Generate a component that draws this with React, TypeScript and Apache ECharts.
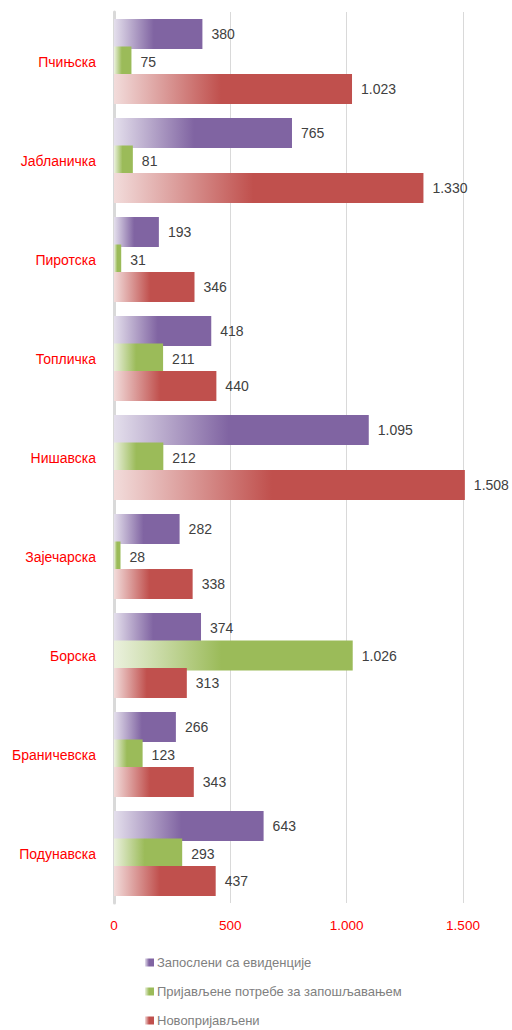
import React, { useEffect, useRef } from "react";
import * as echarts from "echarts";

const categories = [
  "Пчињска",
  "Јабланичка",
  "Пиротска",
  "Топличка",
  "Нишавска",
  "Зајечарска",
  "Борска",
  "Браничевска",
  "Подунавска",
];

const seriesNames = [
  "Запослени са евиденције",
  "Пријављене потребе за запошљавањем",
  "Новопријављени",
];

const employed = [380, 765, 193, 418, 1095, 282, 374, 266, 643];
const needs = [75, 81, 31, 211, 212, 28, 1026, 123, 293];
const newlyRegistered = [1023, 1330, 346, 440, 1508, 338, 313, 343, 437];

const xTicks = [0, 500, 1000, 1500];

const FONT = "'Liberation Sans', Arial, sans-serif";

function fmt(n: number): string {
  if (n >= 1000) {
    return Math.floor(n / 1000) + "." + String(n % 1000).padStart(3, "0");
  }
  return String(n);
}

function grad(light: string, solid: string) {
  return new echarts.graphic.LinearGradient(0, 0, 1, 0, [
    { offset: 0, color: light },
    { offset: 0.45, color: solid },
    { offset: 1, color: solid },
  ]);
}

export default function App() {
  const ref = useRef<HTMLDivElement>(null);

  useEffect(() => {
    if (!ref.current) return;
    const chart = echarts.init(ref.current, null, { renderer: "svg" });
    const colors = [
      grad("#e4dfec", "#8064a2"),
      grad("#ebf1de", "#9bbb59"),
      grad("#f2dcdb", "#c0504d"),
    ];
    const datasets = [employed, needs, newlyRegistered];
    chart.setOption({
      animation: false,
      backgroundColor: "#ffffff",
      textStyle: { fontFamily: FONT },
      grid: { left: 114, right: 49, top: 12, bottom: 127, containLabel: false },
      legend: {
        orient: "vertical",
        left: 145,
        top: 956,
        padding: 0,
        height: 74,
        icon: "rect",
        itemWidth: 9,
        itemHeight: 8,
        itemGap: 16,
        textStyle: { color: "#808080", fontSize: 13, fontFamily: FONT, padding: [0, 0, 0, -2] },
        data: seriesNames,
      },
      xAxis: {
        type: "value",
        min: xTicks[0],
        max: xTicks[xTicks.length - 1],
        interval: 500,
        axisLine: { show: false },
        axisTick: { show: false },
        splitLine: { show: true, lineStyle: { color: "#d9d9d9", width: 1 } },
        axisLabel: {
          color: "#ff0000",
          fontSize: 13.5,
          margin: 15,
          fontFamily: FONT,
          formatter: (v: number) => fmt(v),
        },
      },
      yAxis: {
        type: "category",
        inverse: true,
        data: categories,
        axisLine: { show: true, lineStyle: { color: "#d9d9d9", width: 3 } },
        axisTick: { show: false },
        axisLabel: { color: "#ff0000", fontSize: 14, margin: 18, fontFamily: FONT },
      },
      series: datasets.map((d, i) => ({
        name: seriesNames[i],
        type: "bar",
        data: d,
        barWidth: 30,
        barGap: "-8%",
        clip: false,
        itemStyle: { color: colors[i] },
        label: {
          show: true,
          position: "right",
          distance: 9,
          color: "#404040",
          fontSize: 14,
          fontFamily: FONT,
          formatter: (p: any) => fmt(p.value),
        },
      })),
    });
    return () => chart.dispose();
  }, []);

  return (
    <div
      ref={ref}
      style={{ position: "fixed", left: 0, top: 0, width: 512, height: 1030 }}
    />
  );
}
